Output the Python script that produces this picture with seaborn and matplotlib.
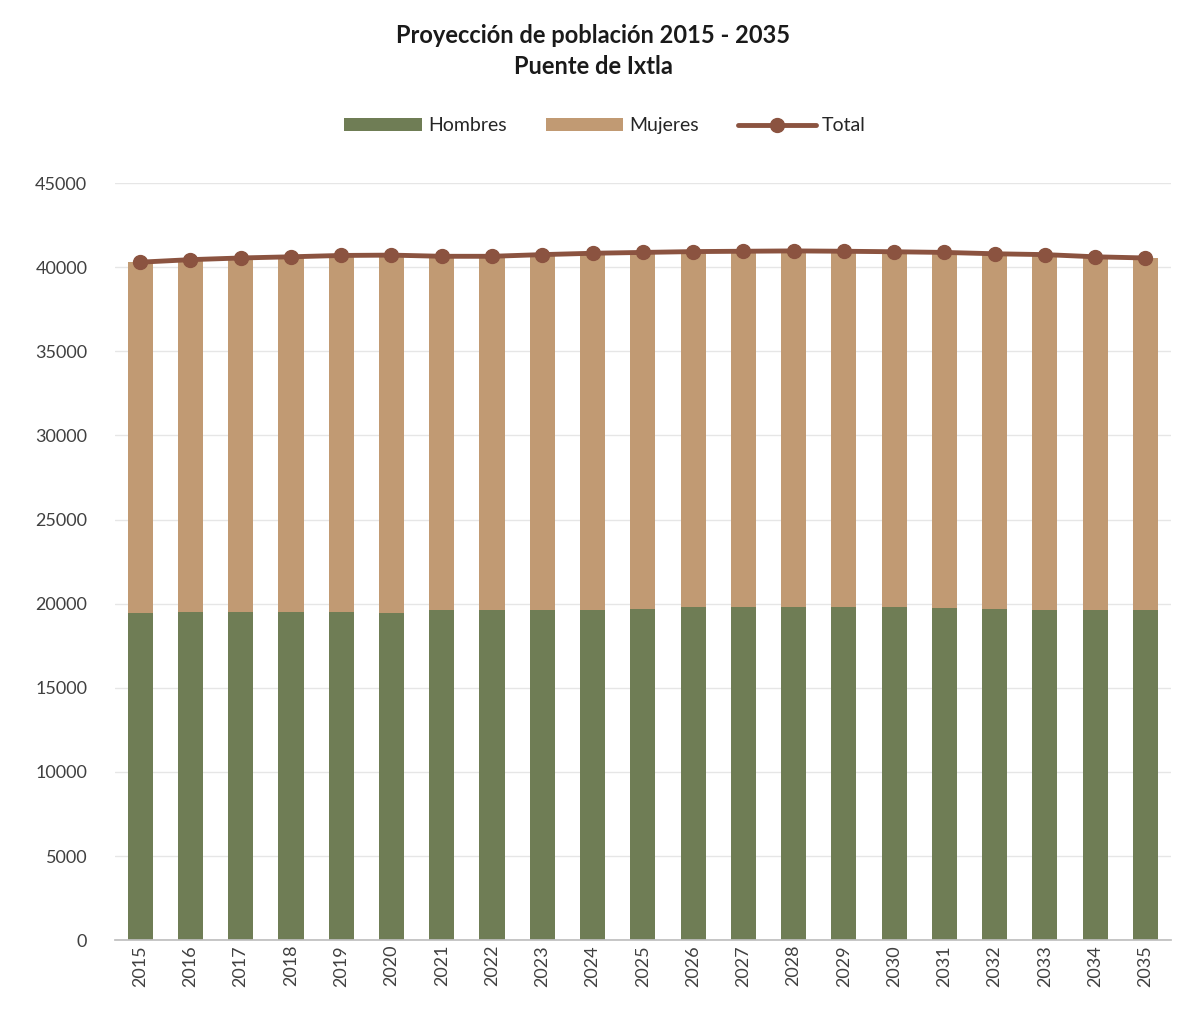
import matplotlib
matplotlib.use("Agg")
import matplotlib.pyplot as plt
import seaborn as sns
import pandas as pd
import numpy as np

years = [str(y) for y in range(2015, 2036)]
hombres = [19450, 19500, 19500, 19500, 19500, 19450, 19600, 19600, 19650, 19650, 19700,
           19800, 19800, 19800, 19800, 19800, 19750, 19700, 19650, 19600, 19600]
mujeres = [20850, 20950, 21050, 21120, 21200, 21270, 21050, 21050, 21100, 21180, 21180,
           21130, 21150, 21170, 21150, 21120, 21130, 21100, 21100, 21020, 20950]
total = [40300, 40450, 40550, 40620, 40700, 40720, 40650, 40650, 40750, 40830, 40880,
         40930, 40950, 40970, 40950, 40920, 40880, 40800, 40750, 40620, 40550]

sns.set_theme(style="white")
plt.rcParams['font.family'] = ['Lato', 'DejaVu Sans']

df = pd.DataFrame({"year": years, "Hombres": hombres, "Mujeres": mujeres, "Total": total})
df["HM"] = df["Hombres"] + df["Mujeres"]

fig = plt.figure(figsize=(11.86, 10.23), dpi=100)
ax = fig.add_axes([0.097, 0.081, 0.89, 0.74])

sns.barplot(data=df, x="year", y="HM", color="#c19a73", width=0.5, ax=ax, label="Mujeres",
            saturation=1, linewidth=0, legend=False)
sns.barplot(data=df, x="year", y="Hombres", color="#6f7d55", width=0.5, ax=ax, label="Hombres",
            saturation=1, linewidth=0, legend=False)
ax.plot(range(len(years)), total, color="#8b5340", lw=3.5, marker="o", ms=10, label="Total")

ax.set_ylim(0, 45000)
ax.set_yticks(range(0, 45001, 5000))
ax.set_yticklabels([str(v) for v in range(0, 45001, 5000)], fontsize=13, color="#404040")
ax.tick_params(axis='y', length=0, pad=20)
ax.tick_params(axis='x', length=0, labelsize=13, labelcolor="#404040", rotation=90)
ax.yaxis.grid(True, color="#e6e6e6", lw=1)
ax.set_axisbelow(True)
for s in ["left", "right", "top"]:
    ax.spines[s].set_visible(False)
ax.spines["bottom"].set_color("#bfbfbf")
ax.set_xlabel("")
ax.set_ylabel("")
ax.set_xlim(-0.5, len(years) - 0.5)

h, l = ax.get_legend_handles_labels()
order = [l.index("Hombres"), l.index("Mujeres"), l.index("Total")]
if ax.get_legend() is not None:
    ax.get_legend().remove()
fig.legend([h[i] for i in order], [l[i] for i in order], loc="center", bbox_to_anchor=(0.51, 0.877),
           ncol=3, frameon=False, fontsize=14, handlelength=4, columnspacing=2.0,
           handletextpad=0.3, handleheight=0.6)
fig.text(0.5, 0.965, "Proyección de población 2015 - 2035", ha="center", va="center",
         fontsize=17, fontweight="bold", color="#1a1a1a")
fig.text(0.5, 0.935, "Puente de Ixtla", ha="center", va="center",
         fontsize=17, fontweight="bold", color="#1a1a1a")
fig.savefig("out.png", dpi=100, facecolor="white")
